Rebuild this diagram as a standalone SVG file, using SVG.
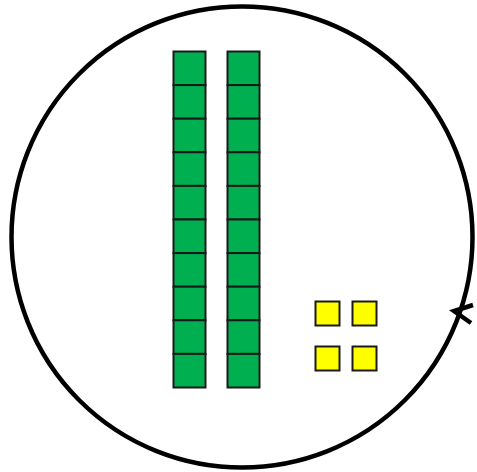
<svg xmlns="http://www.w3.org/2000/svg" width="477" height="472" viewBox="0 0 477 472">
<defs>
<style>
.g{fill:#00b050;stroke:#1a1a1a;stroke-width:2}
.y{fill:#ffff00;stroke:#1a1a1a;stroke-width:2}
.c{fill:none;stroke:#000;stroke-width:4.5}
</style>
<rect id="sq" width="32" height="33.6" class="g"/>
</defs>
<rect width="477" height="472" fill="#fff"/>
<g id="circle"><circle class="c" cx="242" cy="237" r="230.5"/></g>
<g id="connectors"><polyline points="473,305 454,311 471,323" fill="none" stroke="#000" stroke-width="4.5" stroke-linejoin="miter"/></g>
<g id="bar1">
<use href="#sq" x="173.5" y="51.5"/><use href="#sq" x="173.5" y="85.1"/><use href="#sq" x="173.5" y="118.7"/><use href="#sq" x="173.5" y="152.3"/><use href="#sq" x="173.5" y="185.9"/><use href="#sq" x="173.5" y="219.5"/><use href="#sq" x="173.5" y="253.1"/><use href="#sq" x="173.5" y="286.7"/><use href="#sq" x="173.5" y="320.3"/><use href="#sq" x="173.5" y="353.9"/>
</g>
<g id="bar2">
<use href="#sq" x="227.5" y="51.5"/><use href="#sq" x="227.5" y="85.1"/><use href="#sq" x="227.5" y="118.7"/><use href="#sq" x="227.5" y="152.3"/><use href="#sq" x="227.5" y="185.9"/><use href="#sq" x="227.5" y="219.5"/><use href="#sq" x="227.5" y="253.1"/><use href="#sq" x="227.5" y="286.7"/><use href="#sq" x="227.5" y="320.3"/><use href="#sq" x="227.5" y="353.9"/>
</g>
<g id="unit1"><rect class="y" x="315.5" y="301.5" width="24" height="24"/></g>
<g id="unit2"><rect class="y" x="352.5" y="301.5" width="24" height="24"/></g>
<g id="unit3"><rect class="y" x="315.5" y="346.5" width="24" height="24"/></g>
<g id="unit4"><rect class="y" x="352.5" y="346.5" width="24" height="24"/></g>
</svg>
